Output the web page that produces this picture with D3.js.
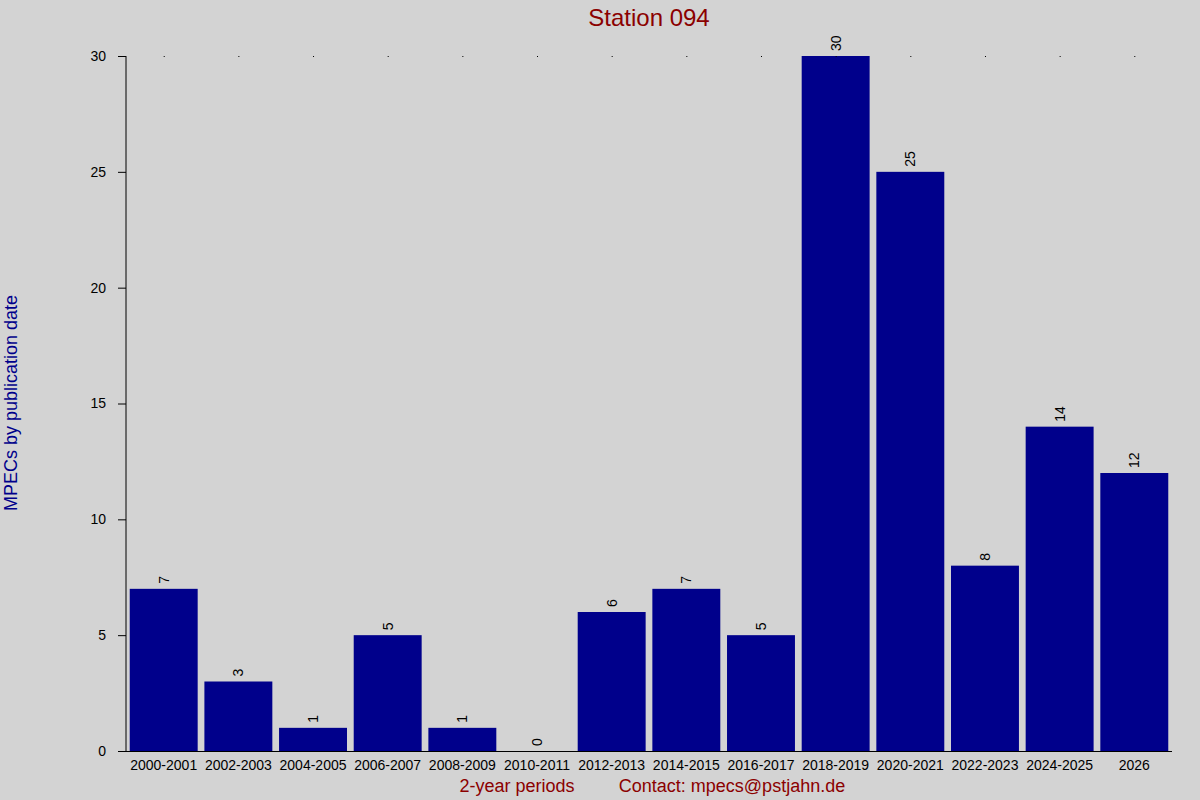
<!DOCTYPE html>
<html><head><meta charset="utf-8">
<script src="https://cdn.jsdelivr.net/npm/d3@7"></script>
<style>body{margin:0;background:#d3d3d3}</style>
</head><body>
<div class="container"></div>
<script>
const periods = ['2000-2001','2002-2003','2004-2005','2006-2007','2008-2009','2010-2011','2012-2013','2014-2015','2016-2017','2018-2019','2020-2021','2022-2023','2024-2025','2026']
const counts = [7, 3, 1, 5, 1, 0, 6, 7, 5, 30, 25, 8, 14, 12]
const yTicks = [0, 5, 10, 15, 20, 25, 30]

const W = 1200, H = 800
const plotLeft = 126, plotRight = 1172, plotTop = 56, plotBottom = 751

const svg = d3.select('.container').append('svg')
  .attr('width', W).attr('height', H)
  .style('background', '#d3d3d3')
  .style('font-family', 'Liberation Sans, Arial, sans-serif')

const x = d3.scaleBand().domain(periods).range([plotLeft, plotRight]).paddingInner(0.09).paddingOuter(0.05)
const y = d3.scaleLinear().domain([0, 30]).range([plotBottom, plotTop])

svg.selectAll('rect.bar')
  .data(counts)
  .enter()
  .append('rect')
  .attr('class', 'bar')
  .attr('x', (d, i) => x(periods[i]))
  .attr('y', d => y(d))
  .attr('width', x.bandwidth())
  .attr('height', d => plotBottom - y(d))
  .attr('fill', '#00008b')

// value labels, rotated
svg.selectAll('text.val')
  .data(counts)
  .enter()
  .append('text')
  .attr('class', 'val')
  .attr('transform', (d, i) => `translate(${x(periods[i]) + x.bandwidth() / 2 + 5},${y(d) - 5}) rotate(-90)`)
  .attr('font-size', 14)
  .attr('fill', '#000')
  .text(d => d)

// top dots at category centres
svg.selectAll('rect.dot')
  .data(periods)
  .enter()
  .append('rect')
  .attr('class', 'dot')
  .attr('x', d => x(d) + x.bandwidth() / 2)
  .attr('y', plotTop)
  .attr('width', 1).attr('height', 1)
  .attr('fill', '#000')

const yAxis = svg.append('g')
  .attr('transform', `translate(${plotLeft},0)`)
  .call(d3.axisLeft(y).tickValues(yTicks).tickSize(8).tickPadding(12))
yAxis.select('.domain').attr('stroke', '#000').attr('d', `M0,${plotTop}V${plotBottom}`)
yAxis.selectAll('text').attr('font-size', 14).attr('fill', '#000').style('font-family', 'Liberation Sans, Arial, sans-serif')

svg.append('line')
  .attr('x1', plotLeft - 8).attr('x2', plotRight)
  .attr('y1', plotBottom + 0.5).attr('y2', plotBottom + 0.5)
  .attr('stroke', '#000')

svg.selectAll('text.xl')
  .data(periods)
  .enter()
  .append('text')
  .attr('class', 'xl')
  .attr('x', d => x(d) + x.bandwidth() / 2)
  .attr('y', plotBottom + 19)
  .attr('text-anchor', 'middle')
  .attr('font-size', 14)
  .attr('fill', '#000')
  .text(d => d)

svg.append('text')
  .attr('x', 649).attr('y', 26)
  .attr('text-anchor', 'middle')
  .attr('font-size', 24)
  .attr('fill', '#8b0000')
  .text('Station 094')

svg.append('text')
  .attr('x', 517).attr('y', 792)
  .attr('text-anchor', 'middle')
  .attr('font-size', 18)
  .attr('fill', '#8b0000')
  .text('2-year periods')

svg.append('text')
  .attr('x', 732).attr('y', 792)
  .attr('text-anchor', 'middle')
  .attr('font-size', 18)
  .attr('fill', '#8b0000')
  .text('Contact: mpecs@pstjahn.de')

svg.append('text')
  .attr('transform', 'translate(17,403) rotate(-90)')
  .attr('text-anchor', 'middle')
  .attr('font-size', 18)
  .attr('fill', '#00008b')
  .text('MPECs by publication date')
</script>
</body></html>
